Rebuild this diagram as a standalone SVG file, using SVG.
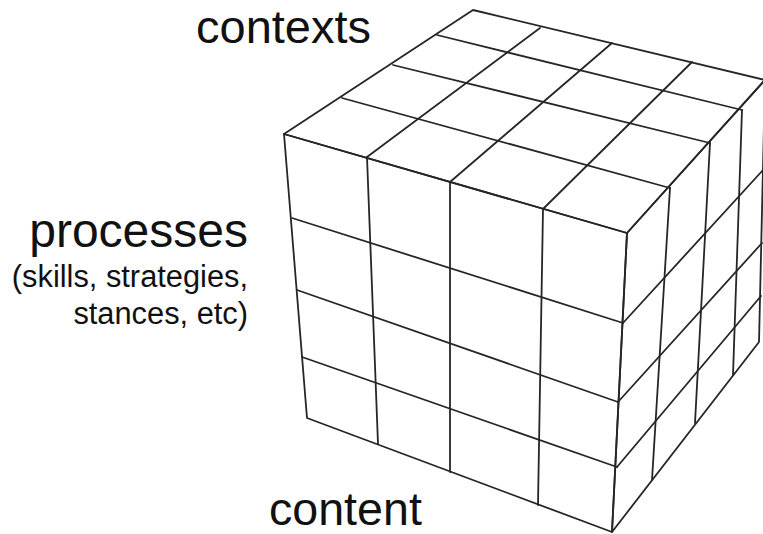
<svg xmlns="http://www.w3.org/2000/svg" width="763" height="534" viewBox="0 0 763 534">
<style>
.g line, .g polygon { stroke: #262626; stroke-width: 1.8; fill: none; stroke-linecap: round; stroke-linejoin: round; }
.t { font-family: "Liberation Sans", Arial, Helvetica, sans-serif; fill: #111; }
</style>
<rect width="763" height="534" fill="#ffffff"/>
<g id="labels">
  <text id="contexts" class="t" x="196" y="43" font-size="46" textLength="175" lengthAdjust="spacingAndGlyphs">contexts</text>
  <text id="processes" class="t" x="248" y="247" font-size="48" text-anchor="end">processes</text>
  <text id="processes-note1" class="t" x="248" y="287" font-size="30.8" text-anchor="end">(skills, strategies,</text>
  <text id="processes-note2" class="t" x="248" y="324" font-size="30.8" text-anchor="end">stances, etc)</text>
  <text id="content" class="t" x="269" y="525" font-size="46.6">content</text>
</g>
<g id="top-face" class="g">
  <polygon points="284,134 473,10 765,80 627,233"/>
  <line x1="367" y1="157" x2="540" y2="28"/>
  <line x1="450" y1="182" x2="612" y2="43"/>
  <line x1="543" y1="209" x2="692" y2="62"/>
  <line x1="342" y1="98" x2="670" y2="188"/>
  <line x1="393" y1="65" x2="710" y2="143"/>
  <line x1="437" y1="35" x2="742" y2="110"/>
</g>
<g id="front-face" class="g">
  <polygon points="284,134 627,233 612,532 307,418"/>
  <line x1="367" y1="157" x2="378" y2="444"/>
  <line x1="450" y1="182" x2="450" y2="472"/>
  <line x1="543" y1="209" x2="538" y2="505"/>
  <line x1="292" y1="218" x2="623" y2="323"/>
  <line x1="297" y1="290" x2="618" y2="402"/>
  <line x1="302" y1="357" x2="617" y2="467"/>
</g>
<g id="right-face" class="g">
  <polygon points="627,233 765,80 759,342 612,532"/>
  <line x1="670" y1="188" x2="652" y2="480"/>
  <line x1="710" y1="143" x2="695" y2="423"/>
  <line x1="742" y1="110" x2="733" y2="375"/>
  <line x1="623" y1="323" x2="763" y2="170"/>
  <line x1="618" y1="402" x2="762" y2="243"/>
  <line x1="617" y1="467" x2="761" y2="296"/>
</g>
</svg>
